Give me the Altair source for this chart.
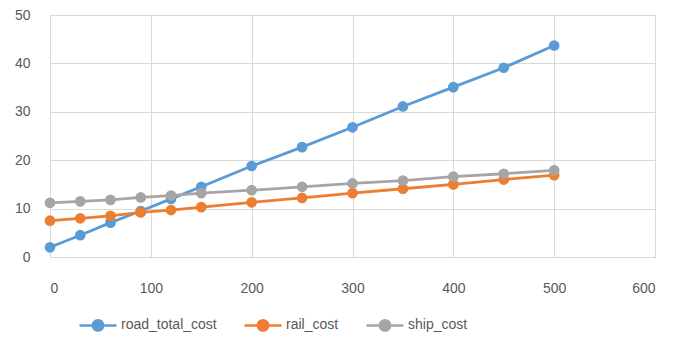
import altair as alt
import pandas as pd

x_vals = [0, 30, 60, 90, 120, 150, 200, 250, 300, 350, 400, 450, 500]
road_total_cost = [2.0, 4.5, 7.1, 9.5, 12.0, 14.5, 18.8, 22.7, 26.8, 31.1, 35.1, 39.1, 43.7]
rail_cost = [7.5, 8.0, 8.5, 9.2, 9.7, 10.3, 11.3, 12.2, 13.2, 14.1, 15.0, 16.0, 16.9]
ship_cost = [11.2, 11.5, 11.8, 12.3, 12.7, 13.2, 13.8, 14.5, 15.2, 15.8, 16.6, 17.2, 17.9]
series_names = ["road_total_cost", "rail_cost", "ship_cost"]
series_colors = ["#5B9BD5", "#ED7D31", "#A5A5A5"]

rows = []
for name, vals in zip(series_names, [road_total_cost, rail_cost, ship_cost]):
    for xv, yv in zip(x_vals, vals):
        rows.append({"x": xv, "value": yv, "series": name})
df = pd.DataFrame(rows)

font = "Liberation Sans"
text_color = "#595959"

color = alt.Color(
    "series:N",
    scale=alt.Scale(domain=series_names, range=series_colors),
    sort=series_names,
    legend=alt.Legend(
        title=None,
        orient="none",
        direction="horizontal",
        legendX=28,
        legendY=290,
        symbolType="M-1,0L1,0M-0.28,0A0.28,0.28 0 1,0 0.28,0A0.28,0.28 0 1,0 -0.28,0Z",
        symbolSize=1369,
        symbolStrokeWidth=2.5,
        labelFont=font,
        labelFontSize=14,
        labelColor=text_color,
        columnPadding=22,
        labelOffset=3,
    ),
)

x = alt.X(
    "x:Q",
    scale=alt.Scale(domain=[0, 600], nice=False),
    axis=alt.Axis(values=[0, 100, 200, 300, 400, 500, 600], title=None, domain=False, ticks=False,
                  labelPadding=24, gridColor="#d9d9d9", labelFont=font, labelFontSize=14,
                  labelColor=text_color),
)
y = alt.Y(
    "value:Q",
    scale=alt.Scale(domain=[0, 50], nice=False),
    axis=alt.Axis(values=[0, 10, 20, 30, 40, 50], title=None, domain=False, ticks=False,
                  labelPadding=20, gridColor="#d9d9d9", labelFont=font, labelFontSize=14,
                  labelColor=text_color),
)

lines = alt.Chart(df).mark_line(strokeWidth=2.8).encode(x=x, y=y, color=color, detail="series:N")
points = alt.Chart(df).mark_circle(size=115, opacity=1).encode(x=x, y=y, color=color)

chart = alt.layer(lines, points).properties(
    width=605,
    height=242,
    autosize="none",
    padding={"left": 50, "top": 15, "right": 19, "bottom": 85},
    background="white",
).configure_view(stroke="#d9d9d9")

chart.save("out.html", embed_options={"renderer": "svg", "actions": False})
